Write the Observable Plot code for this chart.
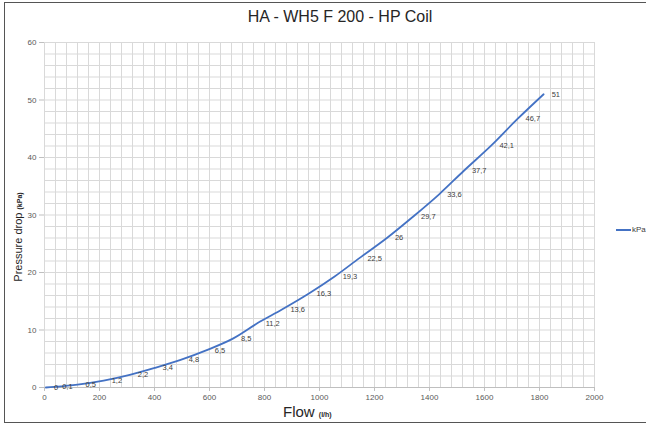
<!DOCTYPE html>
<html>
<head>
<meta charset="utf-8">
<script src="https://cdn.jsdelivr.net/npm/d3@7"></script>
<script src="https://cdn.jsdelivr.net/npm/@observablehq/plot@0.6"></script>
<style>
  html, body { margin: 0; padding: 0; background: #fff; overflow: hidden; }
  #wrap { position: relative; width: 646px; height: 425px; font-family: "Liberation Sans", Arial, sans-serif; }
  #frame { position: absolute; left: 4px; top: 2px; width: 645px; height: 421px; border: 1px solid #555; box-sizing: border-box; pointer-events: none; }
  #title { position: absolute; left: 0; width: 680px; top: 8px; text-align: center; font-size: 16px; color: #262626; }
  #ytitle { position: absolute; left: 18px; top: 237px; transform: translate(-50%, -50%) rotate(-90deg); white-space: nowrap; font-size: 11px; color: #262626; }
  #xtitle { position: absolute; left: 283px; top: 404px; line-height: 15px; white-space: nowrap; font-size: 15px; color: #262626; }
  .unit { font-size: 7px; font-weight: bold; }
  #legend { position: absolute; left: 616px; top: 225px; white-space: nowrap; font-size: 8px; color: #404040; }
  #legend span.sw { display: inline-block; width: 15px; height: 0; border-top: 2px solid #4472C4; vertical-align: middle; margin-right: 1px; }
  #chart { position: absolute; left: 0; top: 0; }
</style>
</head>
<body>
<div id="wrap">
  <div id="chart"></div>
  <div id="title">HA - WH5 F 200 - HP Coil</div>
  <div id="ytitle">Pressure drop <span class="unit">(kPa)</span></div>
  <div id="xtitle">Flow <span class="unit">(l/h)</span></div>
  <div id="legend"><span class="sw"></span>kPa</div>
  <div id="frame"></div>
</div>
<script>
// Data
const flow = [5, 35, 120, 215, 310, 400, 495, 590, 685, 775, 865, 960, 1055, 1145, 1245, 1340, 1435, 1525, 1625, 1720, 1815];
const pressureDrop = [0, 0.1, 0.5, 1.2, 2.2, 3.4, 4.8, 6.5, 8.5, 11.2, 13.6, 16.3, 19.3, 22.5, 26, 29.7, 33.6, 37.7, 42.1, 46.7, 51];
const xTicks = [0, 200, 400, 600, 800, 1000, 1200, 1400, 1600, 1800, 2000];
const yTicks = [0, 10, 20, 30, 40, 50, 60];
const xMinorGrid = d3.range(0, 2001, 40);
const yMinorGrid = d3.range(0, 61, 2);

const data = flow.map((f, i) => ({flow: f, dp: pressureDrop[i]}));
const fmt = v => String(v).replace(".", ",");

const chart = Plot.plot({
  width: 646,
  height: 425,
  marginLeft: 44,
  marginRight: 52,
  marginTop: 42,
  marginBottom: 38,
  style: {fontFamily: "Liberation Sans, Arial, sans-serif", background: "transparent"},
  x: {domain: [0, 2000]},
  y: {domain: [0, 60]},
  marks: [
    Plot.gridX(xMinorGrid, {stroke: "#d9d9d9", strokeOpacity: 1, strokeWidth: 1}),
    Plot.gridY(yMinorGrid, {stroke: "#d9d9d9", strokeOpacity: 1, strokeWidth: 1}),
    Plot.axisX(xTicks, {tickSize: 4, tickPadding: 3, fontSize: 8, color: "#595959", stroke: "#bfbfbf", label: null, tickFormat: d => String(d)}),
    Plot.axisY(yTicks, {tickSize: 5, tickPadding: 3, fontSize: 8, color: "#595959", stroke: "#bfbfbf", label: null, tickFormat: d => String(d)}),
    Plot.ruleY([0], {stroke: "#bfbfbf"}),
    Plot.line(data, {x: "flow", y: "dp", stroke: "#4472C4", strokeWidth: 1.8, curve: "catmull-rom"}),
    Plot.text(data, {x: "flow", y: "dp", text: d => fmt(d.dp), dx: 8, textAnchor: "start", fontSize: 7.5, fill: "#404040"})
  ]
});
document.getElementById("chart").appendChild(chart);
</script>
</body>
</html>
